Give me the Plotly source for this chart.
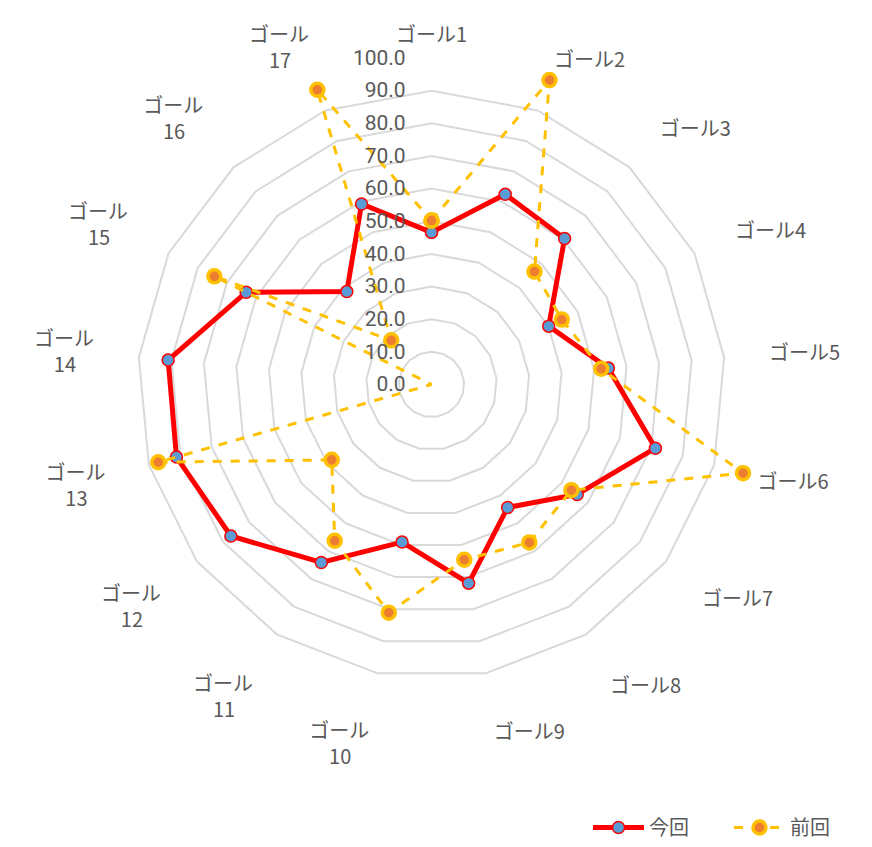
import plotly.graph_objects as go

pad = "&nbsp;" * 4
categories = ["ゴール1", "ゴール2", "ゴール3", "ゴール4", "ゴール5", "ゴール6", "ゴール7",
              "ゴール8", "ゴール9", "ゴール<br>10" + pad, "ゴール<br>11" + pad, "ゴール<br>12" + pad,
              "ゴール<br>13" + pad, "ゴール<br>14" + pad, "ゴール<br>15" + pad,
              "ゴール<br>16" + pad, "ゴール<br>17" + pad]
current = [46.6, 62.5, 60.5, 40.1, 54.4, 71.3, 55.9, 44.3, 61.9, 49.1, 64.1, 77.0, 81.2, 81.0, 63.4, 38.5, 59.3]
previous = [50.2, 100, 46.8, 44.6, 52.2, 99.2, 53.7, 56.9, 54.6, 71.1, 56.3, 38.3, 87.0, 0, 74.3, 18.3, 96.8]
tick_vals = [0, 10, 20, 30, 40, 50, 60, 70, 80, 90, 100]
tick_text = ["0.0", "10.0", "20.0", "30.0", "40.0", "50.0", "60.0", "70.0", "80.0", "90.0", "100.0"]

theta = categories + [categories[0]]
fig = go.Figure()
fig.add_trace(go.Scatterpolar(
    r=current + [current[0]], theta=theta, name="今回", mode="lines+markers",
    line=dict(color="#FF0000", width=5),
    marker=dict(size=12, color="#5B9BD5", line=dict(color="#FF0000", width=1.5)),
))
fig.add_trace(go.Scatterpolar(
    r=previous + [previous[0]], theta=theta, name="前回", mode="lines+markers",
    line=dict(color="#FFC000", width=3, dash="dash"),
    marker=dict(size=13, color="#ED7D31", line=dict(color="#FFC000", width=3.5)),
))

W, H = 872, 847
fig.update_layout(
    width=W, height=H,
    margin=dict(l=0, r=0, t=0, b=0),
    paper_bgcolor="white", plot_bgcolor="white",
    font=dict(family="Noto Sans CJK JP, Roboto, sans-serif", color="#595959", size=17),
    showlegend=True,
    legend=dict(orientation="h", x=588 / W, xanchor="left", y=0, yanchor="bottom",
                font=dict(size=20, color="#595959"), itemwidth=51,
                entrywidth=75, entrywidthmode="pixels"),
    polar=dict(
        domain=dict(x=[105 / W, 758 / W], y=[136 / H, 789 / H]),
        bgcolor="white",
        gridshape="linear",
        angularaxis=dict(direction="clockwise", rotation=90, showgrid=False,
                         showline=False, ticks="outside", ticklen=8,
                         tickcolor="rgba(0,0,0,0)",
                         tickfont=dict(size=20, color="#595959")),
        radialaxis=dict(range=[0, 100], tickvals=tick_vals, ticktext=tick_text,
                        angle=90, tickangle=90, side="counterclockwise",
                        showline=False, ticks="outside", ticklen=18,
                        tickcolor="rgba(0,0,0,0)", gridcolor="#D9D9D9", gridwidth=1.5,
                        tickfont=dict(size=21, color="#595959", family="Roboto, sans-serif")),
    ),
)
fig.write_html("out.html")
